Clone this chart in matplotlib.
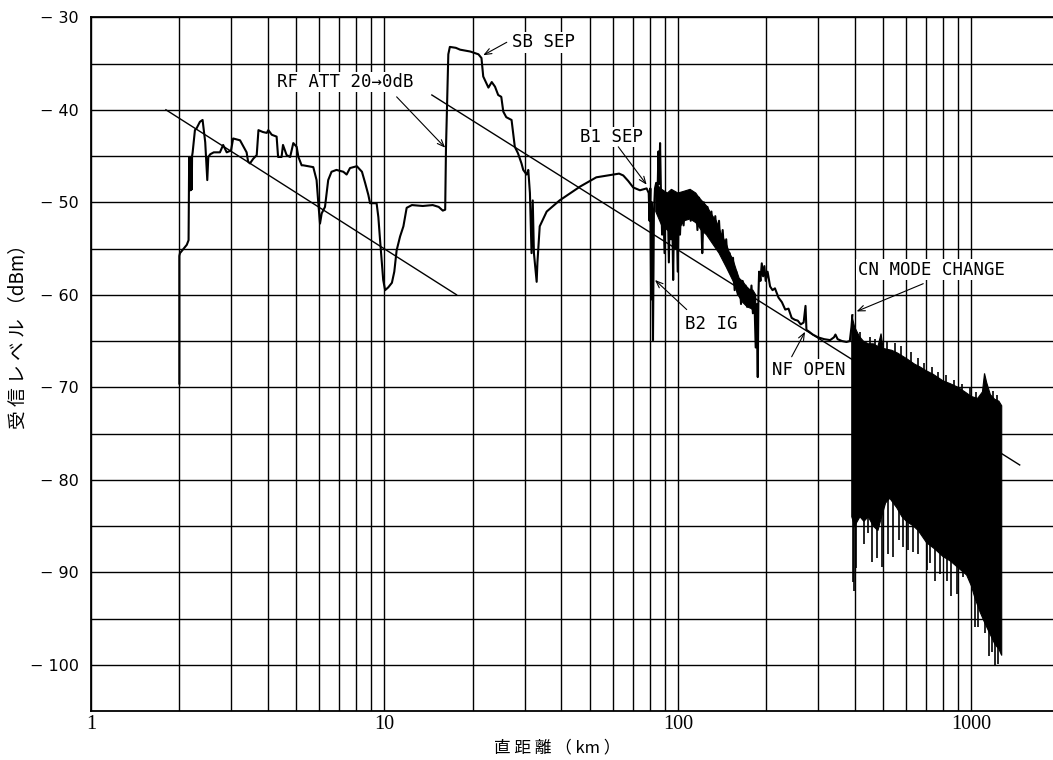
import numpy as np
import matplotlib
matplotlib.use("Agg")
import matplotlib.pyplot as plt
from matplotlib.ticker import FixedLocator, NullFormatter, FixedFormatter

# ---------------- data ----------------
# main received-level trace, 2 km .. 80 km
trace_km = [2.00, 2.00, 2.01, 2.07, 2.12, 2.15, 2.16, 2.165, 2.17, 2.175, 2.18, 2.185, 2.19,
            2.195, 2.20, 2.205, 2.21, 2.22, 2.26, 2.29, 2.35, 2.40, 2.45, 2.49, 2.51, 2.55,
            2.62, 2.75, 2.82, 2.90, 3.00, 3.05, 3.22, 3.39, 3.43, 3.48, 3.57, 3.67, 3.72,
            3.85, 3.97, 4.02, 4.13, 4.29, 4.34, 4.46, 4.51, 4.64, 4.77, 4.89, 5.02, 5.09,
            5.22, 5.28, 5.72, 5.87, 5.95, 6.03, 6.11, 6.27, 6.43, 6.60, 6.86, 7.24, 7.43,
            7.63, 8.05, 8.38, 8.59, 8.81, 8.93, 9.40, 9.53, 9.66, 9.90, 10.05, 10.3, 10.6,
            10.8, 11.0, 11.3, 11.6, 11.9, 12.4, 13.5, 14.6, 15.3, 15.8, 16.1, 16.2, 16.5,
            16.7, 17.5, 18.1, 19.6, 20.9, 21.4, 21.7, 22.0, 22.6, 23.2, 23.8, 24.4, 25.0,
            25.4, 26.0, 27.1, 27.8, 28.5, 29.3, 29.7, 30.5, 30.9, 31.3, 31.7, 32.0, 32.3,
            33.0, 33.2, 33.8, 35.7, 39.5, 46.4, 52.7, 60.2, 63.0, 65.1, 67.7, 70.4, 74.2,
            78.2, 79.5]
trace_dbm = [-69.6, -55.8, -55.5, -55.0, -54.6, -54.1, -45.1, -48.7, -45.1, -48.5, -45.1, -48.7, -45.1,
             -48.4, -45.1, -48.6, -45.0, -44.6, -42.2, -42.0, -41.3, -41.1, -43.5, -47.6, -45.1, -44.8,
             -44.6, -44.6, -43.8, -44.6, -44.4, -43.1, -43.3, -44.6, -45.6, -45.8, -45.3, -44.9, -42.2,
             -42.4, -42.5, -42.2, -42.7, -42.9, -45.1, -45.1, -43.8, -44.9, -45.1, -43.6, -44.0, -45.1,
             -46.0, -46.0, -46.2, -47.6, -50.1, -52.3, -51.2, -50.5, -47.6, -46.7, -46.5, -46.7, -47.0,
             -46.3, -46.1, -46.7, -47.9, -49.2, -50.1, -50.1, -51.6, -54.1, -58.4, -59.5, -59.2, -58.7,
             -57.5, -55.2, -53.7, -52.6, -50.6, -50.3, -50.4, -50.3, -50.5, -50.9, -50.8, -44.2, -34.0,
             -33.2, -33.3, -33.5, -33.7, -34.0, -34.4, -36.4, -36.8, -37.6, -37.0, -37.5, -38.4, -38.6,
             -40.2, -40.8, -41.1, -44.0, -44.7, -45.8, -46.5, -47.0, -46.5, -49.0, -55.5, -49.8, -55.5,
             -58.6, -56.5, -52.6, -51.0, -49.8, -48.3, -47.3, -47.0, -46.9, -47.1, -47.7, -48.4, -48.7,
             -48.5, -49.0]

# noisy part of the trace, 80 km .. 390 km
noise_km = [80.0, 80.5, 81.0, 81.5, 82.2, 82.8, 83.5, 84.3, 85.0, 85.8, 86.3, 86.9, 87.5, 88.3,
            89.1, 90.0, 90.8, 91.5, 92.3, 93.1, 93.9, 94.7, 95.5, 96.3, 97.1, 98.0, 98.9, 99.8,
            100.7, 101.6, 103, 104.5, 106, 107.5, 109, 110.5, 112, 113.5, 115, 116.5, 118, 120,
            121, 122.5, 124, 126, 128, 130, 132, 134, 136, 138, 140, 142, 144, 146, 148, 150,
            152, 154, 156, 158, 160, 162, 164, 166, 168, 170, 172, 174, 176, 178, 180, 182, 184,
            185.5, 187, 188, 189, 191, 193, 195, 197, 199, 202, 206, 210, 214, 220, 226, 232,
            238, 244, 250, 256, 262, 268, 272, 274, 280, 288, 300, 315, 330, 340, 344, 350, 362,
            375, 385, 390, 393]
noise_dbm = [-52.0, -48.5, -60.5, -50.0, -64.9, -51.0, -48.5, -47.9, -50.5, -44.5, -48.0, -43.6, -49.0, -53.5,
             -50.0, -55.5, -49.2, -52.0, -49.5, -56.5, -49.0, -54.0, -50.0, -58.4, -49.5, -55.0, -50.5, -57.5,
             -49.4, -53.5, -49.0, -52.5, -49.3, -51.5, -48.8, -52.0, -49.2, -51.0, -49.4, -53.0, -49.5, -52.0,
             -55.5, -50.0, -52.5, -50.5, -53.5, -51.0, -54.0, -51.5, -54.5, -52.0, -55.5, -53.0, -56.0, -54.0,
             -57.0, -55.5, -57.5, -56.0, -59.5, -57.5, -60.0, -58.3, -61.0, -58.5, -60.5, -59.0, -61.3, -59.5,
             -61.0, -59.0, -62.0, -60.0, -65.7, -61.0, -68.9, -60.0, -57.5, -58.5, -56.6, -58.0, -56.9, -58.5,
             -57.5, -59.1, -59.5, -59.3, -60.3, -60.8, -61.6, -61.5, -62.5, -62.7, -62.8, -63.2, -63.0, -61.2,
             -63.8, -64.0, -64.3, -64.6, -64.8, -64.9, -64.6, -64.3, -64.8, -65.0, -65.1, -65.0, -63.5, -62.2]

# thick noisy stretch 84 km .. 184 km: upper and lower envelope
nband_top_km = [84, 88, 92, 95, 100, 105, 110, 115, 118, 122, 126, 130, 135, 140, 146, 150,
                154, 158, 162, 166, 170, 175, 180, 184]
nband_top_dbm = [-48.0, -48.6, -49.0, -48.6, -49.0, -48.8, -48.6, -49.0, -49.5, -50.0, -50.5, -51.3,
                 -52.0, -53.3, -54.5, -55.5, -56.2, -57.3, -58.3, -58.5, -59.0, -59.4, -59.5, -60.0]
nband_low_km = [84, 88, 92, 96, 100, 105, 110, 115, 120, 125, 130, 138, 146, 154,
                160, 166, 172, 178, 184]
nband_low_dbm = [-51.0, -52.5, -53.0, -53.5, -53.0, -52.0, -51.8, -52.2, -53.0, -53.5, -54.3, -55.5,
                 -57.0, -58.5, -60.0, -60.8, -61.3, -61.5, -62.0]

# dense band above 390 km: upper and lower envelope
band_top_km = [391, 400, 406, 415, 428, 445, 463, 480, 492, 500, 535, 560, 601, 640, 668, 700,
               741, 800, 845, 900, 950, 1000, 1050, 1090, 1108, 1127, 1160, 1200, 1240, 1268]
band_top_dbm = [-62.2, -63.5, -63.9, -64.5, -65.0, -65.3, -65.3, -65.6, -64.2, -65.8, -66.0, -66.3,
                -66.9, -67.5, -67.8, -68.2, -68.6, -69.3, -69.6, -70.0, -70.5, -71.0, -71.2, -70.5,
                -68.5, -69.5, -70.8, -71.3, -71.5, -72.0]
band_low_km = [391, 400, 417, 430, 445, 463, 480, 494, 510, 527, 541, 556, 580, 601, 634, 659,
               703, 751, 800, 849, 900, 963, 1000, 1028, 1070, 1111, 1150, 1203, 1240, 1268]
band_low_dbm = [-84.0, -85.0, -84.0, -84.5, -84.0, -85.0, -85.5, -84.0, -82.5, -82.0, -82.5, -83.0,
                -84.0, -84.5, -85.0, -85.5, -86.8, -87.5, -88.3, -88.8, -89.5, -90.3, -91.5, -92.8,
                -94.3, -95.5, -96.5, -97.8, -98.3, -99.0]
# thin spikes below and above the band
spike_km = [395, 398, 404, 430, 445, 459, 475, 494, 521, 541, 568, 586, 609, 634, 659, 703, 722,
            751, 781, 823, 849, 891, 938, 1028, 1055, 1111, 1150, 1172, 1203, 1228]
spike_dbm = [-91.0, -92.0, -89.5, -86.9, -85.8, -88.9, -88.5, -89.4, -88.0, -88.3, -86.5, -87.3,
             -87.6, -87.8, -88.0, -89.8, -89.0, -90.9, -90.2, -90.9, -92.6, -92.3, -90.5, -95.9,
             -95.9, -96.6, -99.1, -98.6, -100.0, -99.9]
upspike_km = [418, 452, 470, 515, 548, 575, 620, 655, 690, 735, 770, 820, 870, 930, 985, 1040, 1180, 1220]
upspike_dbm = [-64.0, -64.6, -64.8, -65.0, -65.2, -65.5, -66.2, -66.8, -67.4, -67.8, -68.3, -68.7,
               -69.2, -69.6, -70.0, -70.5, -70.4, -70.8]

# straight reference lines
ref1_km, ref1_dbm = [1.8, 17.6], [-40.0, -60.0]
ref2_km, ref2_dbm = [14.5, 1460.0], [-38.4, -78.4]

# annotations: text, text anchor (km, dBm), arrow tail, arrow head
notes = [
    ("SB SEP",          (27.2, -32.7), (26.1, -32.7), (21.7, -34.1)),
    ("RF ATT 20\u21920dB", (4.30, -37.0), (11.0, -38.6), (16.1, -44.1)),
    ("B1 SEP",          (46.4, -42.95), (62.6, -44.0), (78.2, -48.1)),
    ("B2 IG",           (105.6, -63.15), (107.1, -61.6), (83.5, -58.4)),
    ("NF OPEN",         (209.0, -68.1), (244.0, -66.7), (271.0, -64.0)),
    ("CN MODE CHANGE",  (410.0, -57.3), (685.0, -58.8), (406.0, -61.8)),
]

x_major = [1, 10, 100, 1000]
x_major_labels = ["1", "10", "100", "1000"]
y_major = [-100, -90, -80, -70, -60, -50, -40, -30]
y_major_labels = ["\u2212 100", "\u2212 90", "\u2212 80", "\u2212 70", "\u2212 60", "\u2212 50", "\u2212 40", "\u2212 30"]
y_minor = [-95, -85, -75, -65, -55, -45, -35]

# ---------------- figure ----------------
W, H = 1053, 760
fig = plt.figure(figsize=(W / 100, H / 100), dpi=100)
ax = fig.add_axes([91 / W, 1 - 711 / H, 1 - 91 / W, (711 - 17.3) / H])
ax.set_xscale("log")
ax.set_xlim(1, 1896)
ax.set_ylim(-105, -30)

x_minor = [m * 10 ** k for k in range(0, 4) for m in range(2, 10) if m * 10 ** k < 1896]
ax.xaxis.set_major_locator(FixedLocator(x_major))
ax.xaxis.set_major_formatter(FixedFormatter(x_major_labels))
ax.xaxis.set_minor_locator(FixedLocator(x_minor))
ax.xaxis.set_minor_formatter(NullFormatter())
ax.yaxis.set_major_locator(FixedLocator(y_major))
ax.yaxis.set_major_formatter(FixedFormatter(y_major_labels))
ax.yaxis.set_minor_locator(FixedLocator(y_minor))
ax.yaxis.set_minor_formatter(NullFormatter())

ax.grid(True, which="both", color="black", lw=1.0)
ax.set_axisbelow(True)
ax.tick_params(which="both", length=0)
ax.tick_params(axis="y", pad=9, labelsize=11.5)
for lab in ax.get_yticklabels():
    lab.set_family("DejaVu Sans")
ax.tick_params(axis="x", pad=3, labelsize=14.5)
for lab in ax.get_xticklabels():
    lab.set_family("Liberation Serif")
for s in ("left", "bottom", "top"):
    ax.spines[s].set_linewidth(1.3)
ax.spines["right"].set_visible(False)

# reference lines
ax.plot(ref1_km, ref1_dbm, color="black", lw=1.0, zorder=3)
ax.plot(ref2_km, ref2_dbm, color="black", lw=1.0, zorder=3)

# trace
ax.plot(trace_km + noise_km, trace_dbm + noise_dbm, color="black", lw=1.5, zorder=4)
nb_x = np.concatenate([nband_top_km, nband_low_km[::-1]])
nb_y = np.concatenate([nband_top_dbm, nband_low_dbm[::-1]])
ax.fill(nb_x, nb_y, color="black", lw=0.8, zorder=4)

# dense band
poly_x = np.concatenate([band_top_km, band_low_km[::-1]])
poly_y = np.concatenate([band_top_dbm, band_low_dbm[::-1]])
ax.fill(poly_x, poly_y, color="black", lw=0.8, zorder=4)
ax.vlines(spike_km, spike_dbm, [-80] * len(spike_km), color="black", lw=1.2, zorder=4)
ax.vlines(upspike_km, [-75] * len(upspike_km), upspike_dbm, color="black", lw=1.2, zorder=4)

# annotations
mono = "DejaVu Sans Mono"
for txt, tpos, tail, head in notes:
    ax.text(tpos[0], tpos[1], txt, ha="left", va="center", fontsize=12.5, family=mono,
            zorder=6, bbox=dict(facecolor="white", edgecolor="none", pad=1.0))
    ax.annotate("", xy=head, xytext=tail,
                arrowprops=dict(arrowstyle="->,head_length=0.5,head_width=0.2", lw=0.8,
                                color="black", shrinkA=0, shrinkB=0), zorder=6)

fig.text(18 / W, 1 - 332 / H, "受 信 レ ベ ル （dBm）", rotation=90, ha="center", va="center",
         fontsize=13.5, family=["Noto Sans CJK JP", "DejaVu Sans"])
fig.text(557 / W, 1 - 748 / H, "直 距 離 （ km ）", ha="center", va="center",
         fontsize=12, family=["Noto Sans CJK JP", "DejaVu Sans"])

fig.savefig("out.png", dpi=100)
